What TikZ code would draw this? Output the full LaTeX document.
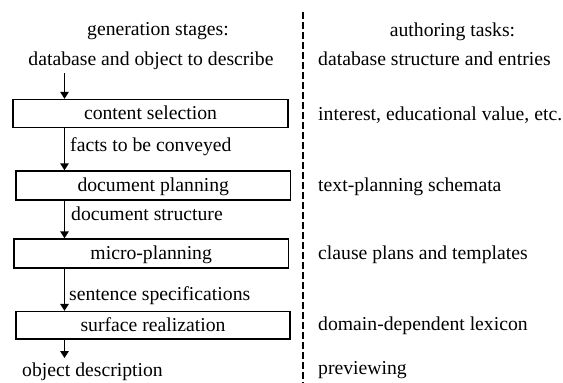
\documentclass[tikz,border=0pt]{standalone}
\usepackage{fontspec}
\setmainfont{Liberation Serif}
\usetikzlibrary{arrows.meta}
\begin{document}
\begin{tikzpicture}[x=1pt,y=-1pt,
  txt/.style={font=\fontsize{19.7}{22}\selectfont, inner sep=0pt},
  stage/.style={draw, line width=1.4pt, inner sep=0pt, text height=12.5pt, text depth=0pt, font=\fontsize{19.7}{22}\selectfont},
  flow/.style={line width=1.4pt, -{Triangle[length=7pt,width=8.5pt]}}]
\useasboundingbox (0,0) rectangle (563,383);
\draw[line width=2pt, dash pattern=on 7pt off 3pt] (302.7,12) coordinate (dtop) -- (302.7,383) coordinate (dbot);
\node[txt, anchor=base] (gs) at (158,35.7) {generation stages:};
\node[txt, anchor=base] (at) at (452.5,36) {authoring tasks:};
\node[txt, anchor=base] (db) at (151,65) {database and object to describe};
\node[txt, anchor=base west] (r1) at (318,65) {database structure and entries};
\node[stage, minimum width=275pt, minimum height=28pt] (cs) at (150.5,113.5) {content selection};
\node[txt, anchor=base west] (r2) at (318,120) {interest, educational value, etc.};
\node[stage, minimum width=274.7pt, minimum height=29pt] (dp) at (153.3,185.5) {document planning};
\node[txt, anchor=base west] (r3) at (318,191.7) {text-planning schemata};
\node[stage, minimum width=274.3pt, minimum height=29pt] (mp) at (151.2,253.5) {micro-planning};
\node[txt, anchor=base west] (r4) at (318,259) {clause plans and templates};
\node[stage, minimum width=274pt, minimum height=27.5pt] (sr) at (153,325.3) {surface realization};
\node[txt, anchor=base west] (r5) at (318,330.7) {domain-dependent lexicon};
\node[txt, anchor=base west] (od) at (22,376.5) {object description};
\node[txt, anchor=base west] (r6) at (318,374.5) {previewing};
\node[txt, anchor=base west] (l1) at (70,151.7) {facts to be conveyed};
\node[txt, anchor=base west] (l2) at (71,220) {document structure};
\node[txt, anchor=base west] (l3) at (69,300) {sentence specifications};
\coordinate (a0) at (64.5,73);
\coordinate (a5) at (64.5,358);
\draw[flow] (a0) -- (a0 |- cs.north);
\draw[flow] (a0 |- cs.south) -- (a0 |- dp.north);
\draw[flow] (a0 |- dp.south) -- (a0 |- mp.north);
\draw[flow] (a0 |- mp.south) -- (a0 |- sr.north);
\draw[flow] (a0 |- sr.south) -- (a5);
\end{tikzpicture}
\end{document}
